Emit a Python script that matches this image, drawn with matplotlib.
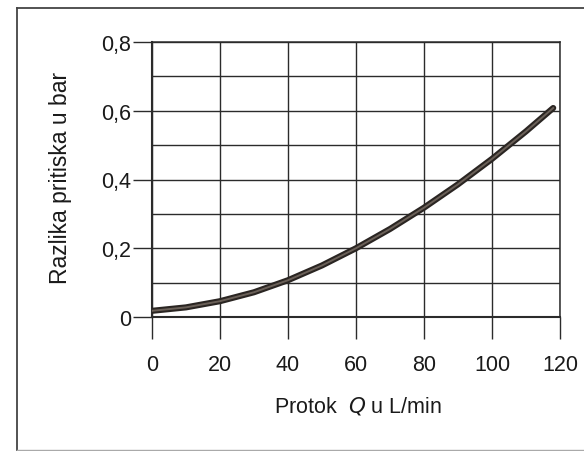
import numpy as np
import matplotlib
matplotlib.use('Agg')
import matplotlib.pyplot as plt
from matplotlib.lines import Line2D

# curve
flow = [0, 10, 20, 30, 40, 50, 60, 70, 80, 90, 100, 110, 118]
dp = [0.018, 0.028, 0.046, 0.072, 0.107, 0.150, 0.200, 0.256, 0.318, 0.386, 0.460, 0.540, 0.608]

x_ticks = [0, 20, 40, 60, 80, 100, 120]
y_ticks = [0, 0.2, 0.4, 0.6, 0.8]
y_tick_labels = ["0", "0,2", "0,4", "0,6", "0,8"]
y_minor = [0.1, 0.3, 0.5, 0.7]

plt.rcParams['font.family'] = ['Liberation Sans', 'DejaVu Sans']
ink = '#2b2b2b'

fig = plt.figure(figsize=(5.84, 4.52), dpi=100)
ax = fig.add_axes([152/584, 1 - 318/452, 408/584, 275/452])

ax.plot(flow, dp, color='#2a2522', lw=4.4, solid_capstyle='round',
        solid_joinstyle='round', zorder=3)
ax.plot(flow, dp, color='#6a6058', lw=1.4, solid_joinstyle='round', zorder=4)

ax.set_xlim(0, 120)
ax.set_ylim(0, 0.8)
ax.set_xticks(x_ticks)
ax.set_yticks(y_ticks)
ax.set_yticklabels(y_tick_labels)
ax.set_yticks(y_minor, minor=True)

ax.grid(True, which='major', color=ink, lw=1.0)
ax.grid(True, which='minor', axis='y', color=ink, lw=1.0)
ax.set_axisbelow(True)

ax.tick_params(axis='x', which='major', direction='out', length=16, width=1.0,
               color=ink, pad=11, labelsize=15.5, labelcolor='#1a1a1a')
ax.tick_params(axis='y', which='major', direction='out', length=13.5, width=1.0,
               color=ink, pad=1.5, labelsize=15.5, labelcolor='#1a1a1a')
ax.tick_params(axis='y', which='minor', length=0)

for s in ax.spines.values():
    s.set_color(ink)
    s.set_linewidth(1.1)
ax.spines['left'].set_linewidth(1.5)
ax.spines['bottom'].set_linewidth(1.5)

fig.text(61/584, 1 - 178/452, "Razlika pritiska u bar", fontsize=16.5,
         color='#1a1a1a', rotation=90, ha='center', va='center')
fig.text(358/584, 1 - 407/452, r"Protok  $\it{Q}$ u L/min", fontsize=15.5,
         color='#1a1a1a', ha='center', va='center')

# scanned page frame
fig.add_artist(Line2D([17/584, 17/584], [1 - 9/452, 1 - 451/452], color='#444444', lw=1.3))
fig.add_artist(Line2D([17/584, 1.0], [1 - 9/452, 1 - 9/452], color='#444444', lw=1.3))
fig.add_artist(Line2D([17/584, 1.0], [1 - 451/452, 1 - 451/452], color='#aaaaaa', lw=1.0))

fig.savefig('out.png', dpi=100)
